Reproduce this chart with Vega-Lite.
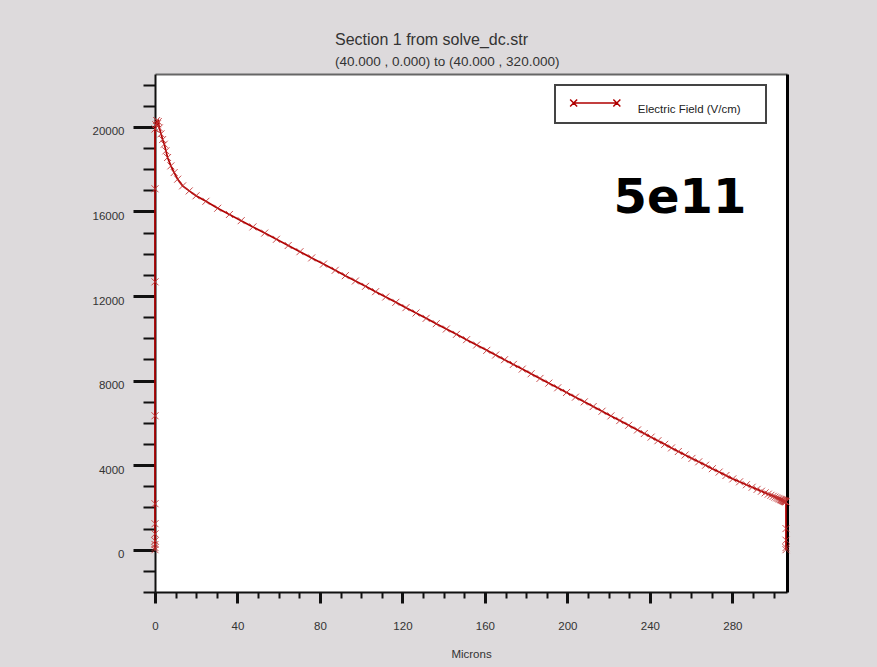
{
  "$schema": "https://vega.github.io/schema/vega-lite/v6.json",
  "width": 632,
  "height": 518,
  "autosize": {"type": "none"},
  "padding": {"left": 155, "top": 74, "right": 90, "bottom": 75},
  "background": "#dddadc",
  "view": {"fill": "white", "stroke": null},
  "config": {"font": "Liberation Sans"},
  "title": {
    "text": "Section 1 from solve_dc.str",
    "subtitle": "(40.000 , 0.000) to (40.000 , 320.000)",
    "anchor": "start",
    "frame": "group",
    "dx": 180,
    "fontSize": 16,
    "subtitleFontSize": 13.5,
    "fontWeight": "normal",
    "font": "Liberation Sans",
    "subtitleFont": "Liberation Sans",
    "color": "#333333",
    "subtitleColor": "#333333",
    "offset": 6,
    "subtitlePadding": 7
  },
  "datasets": {
    "field": [
      {"x":0,"y":0},{"x":0,"y":100},{"x":0,"y":250},{"x":0,"y":420},{"x":0,"y":750},{"x":0,"y":1230},{"x":0,"y":2175},{"x":0,"y":6335},{"x":0,"y":12670},{"x":0,"y":17070},{"x":0,"y":19900},
      {"x":0.4,"y":20100},{"x":0.8,"y":20300},{"x":1.2,"y":20150},{"x":1.6,"y":20250},{"x":2.1,"y":19950},{"x":2.9,"y":19670},{"x":3.7,"y":19400},{"x":4.5,"y":19180},{"x":5.3,"y":18865},{"x":6.1,"y":18550},{"x":7.7,"y":18155},{"x":9.3,"y":17840},{"x":11.0,"y":17525},{"x":13.4,"y":17210},{"x":16.6,"y":16970},{"x":19.9,"y":16740},
      {"x":24.7,"y":16480},{"x":30.4,"y":16150},{"x":36.1,"y":15856},{"x":41.8,"y":15563},{"x":47.5,"y":15269},{"x":53.2,"y":14976},{"x":58.9,"y":14682},{"x":64.6,"y":14389},{"x":70.3,"y":14095},{"x":76.0,"y":13802},{"x":81.7,"y":13508},{"x":87.4,"y":13215},
      {"x":92.3,"y":12962},{"x":97.2,"y":12710},{"x":102.1,"y":12457},{"x":107.0,"y":12205},{"x":111.9,"y":11953},{"x":116.8,"y":11700},{"x":121.7,"y":11448},{"x":126.6,"y":11196},{"x":131.5,"y":10943},{"x":136.4,"y":10691},{"x":141.3,"y":10439},{"x":146.2,"y":10186},{"x":151.1,"y":9934},{"x":156.0,"y":9682},{"x":160.9,"y":9429},
      {"x":165.2,"y":9208},{"x":169.5,"y":8986},{"x":173.8,"y":8765},{"x":178.1,"y":8543},{"x":182.4,"y":8322},{"x":186.7,"y":8101},{"x":191.0,"y":7879},{"x":195.3,"y":7658},{"x":199.6,"y":7436},{"x":203.9,"y":7215},{"x":208.2,"y":6993},{"x":212.5,"y":6772},{"x":216.8,"y":6550},{"x":221.1,"y":6329},{"x":225.4,"y":6108},{"x":229.7,"y":5886},{"x":234.0,"y":5665},
      {"x":237.3,"y":5495},{"x":240.6,"y":5325},{"x":243.9,"y":5155},{"x":247.2,"y":4985},{"x":250.5,"y":4815},{"x":253.8,"y":4645},{"x":257.1,"y":4480},{"x":260.4,"y":4318},{"x":263.7,"y":4157},{"x":267.0,"y":3995},{"x":270.3,"y":3833},{"x":273.6,"y":3672},{"x":276.9,"y":3510},{"x":280.2,"y":3350},{"x":283.5,"y":3211},{"x":286.8,"y":3072},
      {"x":289.6,"y":2955},{"x":292.0,"y":2854},{"x":294.1,"y":2766},{"x":295.9,"y":2690},{"x":297.4,"y":2627},{"x":298.7,"y":2573},{"x":299.8,"y":2526},{"x":300.7,"y":2489},{"x":301.5,"y":2455},{"x":302.2,"y":2426},{"x":302.8,"y":2400},{"x":303.3,"y":2379},{"x":303.7,"y":2363},{"x":304.1,"y":2346},{"x":304.4,"y":2333},{"x":304.7,"y":2321},{"x":305.0,"y":2308},{"x":305.2,"y":2300},{"x":305.4,"y":2291},{"x":305.6,"y":2283},{"x":305.8,"y":2275},
      {"x":306.0,"y":2260},{"x":306.0,"y":1000},{"x":306.0,"y":450},{"x":306.0,"y":100},{"x":306.0,"y":0}
    ],
    "note": [{"x": 254.6, "y": 16600, "label": "5e11"}]
  },
  "layer": [
    {
      "data": {"name": "field"},
      "mark": {"type": "line", "strokeWidth": 1.7},
      "encoding": {
        "x": {
          "field": "x", "type": "quantitative",
          "scale": {"domain": [0, 306.5], "nice": false, "zero": false},
          "axis": {
            "orient": "bottom",
            "values": [0,10,20,30,40,50,60,70,80,90,100,110,120,130,140,150,160,170,180,190,200,210,220,230,240,250,260,270,280,290,300],
            "labelExpr": "datum.value % 40 === 0 ? datum.label : ''",
            "tickSize": {"condition": {"test": "datum.value % 40 === 0", "value": 11}, "value": 6},
            "tickWidth": {"condition": {"test": "datum.value % 40 === 0", "value": 3}, "value": 2},
            "tickColor": "#111111",
            "domainColor": "#111111",
            "domainWidth": 2,
            "labelFontSize": 11.5,
            "labelColor": "#333333",
            "labelPadding": 17,
            "labelFlush": false,
            "labelOverlap": false,
            "grid": false,
            "title": "Microns",
            "titleFontSize": 11.5,
            "titleFontWeight": "normal",
            "titleColor": "#333333",
            "titlePadding": 17
          }
        },
        "y": {
          "field": "y", "type": "quantitative",
          "scale": {"domain": [-2000, 22500], "nice": false, "zero": false},
          "axis": {
            "orient": "left",
            "values": [-2000,-1000,0,1000,2000,3000,4000,5000,6000,7000,8000,9000,10000,11000,12000,13000,14000,15000,16000,17000,18000,19000,20000,21000,22000],
            "format": "d",
            "labelExpr": "datum.value % 4000 === 0 ? datum.label : ''",
            "tickSize": {"condition": {"test": "datum.value % 4000 === 0", "value": 22}, "value": 12},
            "tickWidth": {"condition": {"test": "datum.value % 4000 === 0", "value": 3}, "value": 2},
            "tickColor": "#111111",
            "domainColor": "#111111",
            "domainWidth": 2,
            "labelFontSize": 11.5,
            "labelColor": "#333333",
            "labelPadding": 9,
            "labelOffset": 5,
            "labelFlush": false,
            "labelOverlap": false,
            "grid": false,
            "title": null
          }
        },
        "color": {
          "datum": "Electric Field (V/cm)",
          "type": "nominal",
          "scale": {"range": ["#b00000"]},
          "legend": {
            "orient": "none",
            "legendX": 400,
            "legendY": 11,
            "title": ".",
            "titleOrient": "right",
            "titleOpacity": 0,
            "titleFontSize": 11.5,
            "titlePadding": 17,
            "symbolType": "M-0.8,-0.037L0.8,-0.037M-0.93,-0.167L-0.67,0.093M-0.93,0.093L-0.67,-0.167M0.67,-0.167L0.93,0.093M0.67,0.093L0.93,-0.167",
            "symbolSize": 2916,
            "symbolStrokeWidth": 1.5,
            "symbolOffset": 8.25,
            "clipHeight": 30,
            "labelFontSize": 11.5,
            "labelColor": "#222222",
            "labelOffset": 14.5,
            "labelBaseline": "top",
            "padding": 4,
            "strokeColor": "#444444",
            "fillColor": "white",
            "encode": {"legend": {"update": {"strokeWidth": {"value": 2}}}}
          }
        }
      }
    },
    {
      "data": {"name": "field"},
      "mark": {"type": "point", "shape": "M-1,-1L1,1M-1,1L1,-1", "filled": false, "stroke": "#c03030", "strokeWidth": 1, "size": 49, "opacity": 0.85},
      "encoding": {
        "x": {
          "field": "x", "type": "quantitative",
          "scale": {"domain": [0, 306.5], "nice": false, "zero": false},
          "axis": {"orient": "top", "ticks": false, "labels": false, "domainColor": "#666666", "domainWidth": 2, "title": null, "grid": false}
        },
        "y": {
          "field": "y", "type": "quantitative",
          "scale": {"domain": [-2000, 22500], "nice": false, "zero": false},
          "axis": {"orient": "right", "ticks": false, "labels": false, "domainColor": "#000000", "domainWidth": 3, "title": null, "grid": false}
        }
      }
    },
    {
      "data": {"name": "note"},
      "mark": {"type": "text", "font": "DejaVu Sans", "fontWeight": "bold", "fontSize": 48, "color": "black", "align": "center", "baseline": "middle"},
      "encoding": {
        "x": {"field": "x", "type": "quantitative", "scale": {"domain": [0, 306.5], "nice": false, "zero": false}, "axis": null},
        "y": {"field": "y", "type": "quantitative", "scale": {"domain": [-2000, 22500], "nice": false, "zero": false}, "axis": null},
        "text": {"field": "label"}
      }
    }
  ],
  "resolve": {"axis": {"x": "independent", "y": "independent"}}
}
